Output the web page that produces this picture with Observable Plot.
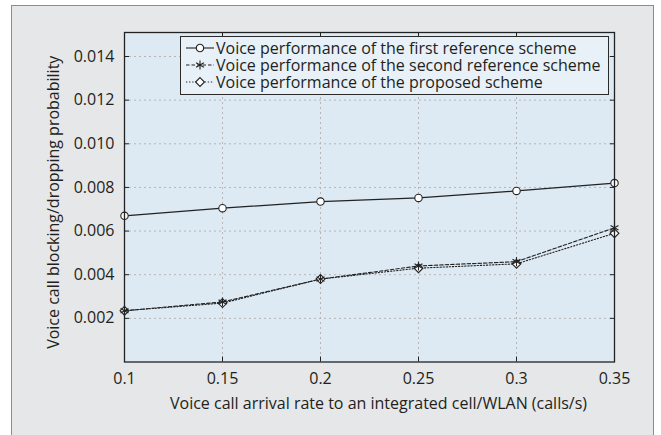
<!DOCTYPE html>
<html>
<head>
<meta charset="utf-8">
<script src="https://cdn.jsdelivr.net/npm/d3@7"></script>
<script src="https://cdn.jsdelivr.net/npm/@observablehq/plot@0.6"></script>
<style>
  html, body { margin: 0; padding: 0; background: #ffffff; }
  body { width: 661px; height: 435px; position: relative; overflow: hidden; font-family: "Open Sans", sans-serif; }
  #panel { position: absolute; left: 11px; top: 5px; width: 641px; height: 460px; background: #e6e7e8; border: 1.5px solid #8c8c8c; }
  #chart { position: absolute; left: 0; top: 0; }
  #legend { position: absolute; left: 180px; top: 36px; width: 429px; height: 59px; background: #e9f1f8; border: 1px solid #2a2a2a; box-sizing: border-box; padding-top: 3px; }
  .row { display: flex; align-items: center; height: 16.8px; line-height: 16.8px; font-size: 16px; color: #231f20; white-space: nowrap; }
  .row svg { margin-left: 4px; margin-right: 1px; flex: none; }
</style>
</head>
<body>
<div id="panel"></div>
<div id="chart"></div>
<div id="legend"></div>
<script>
// ---- data ----
const rates = [0.1, 0.15, 0.2, 0.25, 0.3, 0.35];
const firstRef = [0.0067, 0.00705, 0.00735, 0.00752, 0.00784, 0.0082];
const secondRef = [0.00235, 0.00275, 0.0038, 0.0044, 0.0046, 0.00615];
const proposed = [0.00235, 0.0027, 0.0038, 0.0043, 0.0045, 0.0059];
const seriesNames = [
  "Voice performance of the first reference scheme",
  "Voice performance of the second reference scheme",
  "Voice performance of the proposed scheme"
];
const xTicks = [0.1, 0.15, 0.2, 0.25, 0.3, 0.35];
const xTickLabels = ["0.1", "0.15", "0.2", "0.25", "0.3", "0.35"];
const yTicks = [0.002, 0.004, 0.006, 0.008, 0.010, 0.012, 0.014];
const yTickLabels = ["0.002", "0.004", "0.006", "0.008", "0.010", "0.012", "0.014"];
const xTitle = "Voice call arrival rate to an integrated cell/WLAN (calls/s)";
const yTitle = "Voice call blocking/dropping probability";

// ---- build table ----
const toRows = (vals, name) => rates.map((r, i) => ({x: r, y: vals[i], series: name}));
const d1 = toRows(firstRef, seriesNames[0]);
const d2 = toRows(secondRef, seriesNames[1]);
const d3p = toRows(proposed, seriesNames[2]);

const ink = "#222";
const styles = [
  {dash: null, symbol: "circle", r: 3.7},
  {dash: "3.5,2", symbol: "asterisk", r: 4.3},
  {dash: "1.3,1.8", symbol: "diamond2", r: 4}
];

const chart = Plot.plot({
  width: 661,
  height: 435,
  marginLeft: 124,
  marginRight: 47,
  marginTop: 32,
  marginBottom: 73.5,
  style: {background: "transparent", fontFamily: "Open Sans, sans-serif", color: "#231f20"},
  x: {domain: [0.1, 0.35]},
  y: {domain: [0, 0.0151]},
  marks: [
    Plot.frame({fill: "#dde9f3"}),
    Plot.gridX(xTicks.slice(1, -1), {stroke: "#b8b4b4", strokeOpacity: 1, strokeDasharray: "2,3"}),
    Plot.gridY(yTicks, {stroke: "#b8b4b4", strokeOpacity: 1, strokeDasharray: "2,3"}),
    // proposed
    Plot.line(d3p, {x: "x", y: "y", stroke: ink, strokeWidth: 1.1, strokeDasharray: styles[2].dash}),
    Plot.dot(d3p, {x: "x", y: "y", symbol: "diamond2", r: styles[2].r, fill: "white", stroke: ink, strokeWidth: 1.1}),
    // second
    Plot.line(d2, {x: "x", y: "y", stroke: ink, strokeWidth: 1.1, strokeDasharray: styles[1].dash}),
    Plot.dot(d2, {x: "x", y: "y", symbol: "asterisk", r: styles[1].r, stroke: ink, strokeWidth: 1.1}),
    // first
    Plot.line(d1, {x: "x", y: "y", stroke: ink, strokeWidth: 1.2}),
    Plot.dot(d1, {x: "x", y: "y", symbol: "circle", r: styles[0].r, fill: "white", stroke: ink, strokeWidth: 1.1}),
    Plot.frame({stroke: "#222", strokeWidth: 1.3}),
    // inward ticks
    Plot.axisX(xTicks, {anchor: "bottom", tickSize: -5, fill: "none", label: null, stroke: "#222"}),
    Plot.axisX(xTicks, {anchor: "top", tickSize: -5, fill: "none", label: null, stroke: "#222"}),
    Plot.axisY(yTicks, {anchor: "left", tickSize: -5, fill: "none", label: null, stroke: "#222"}),
    Plot.axisY(yTicks, {anchor: "right", tickSize: -5, fill: "none", label: null, stroke: "#222"}),
    // labels
    Plot.axisX(xTicks, {anchor: "bottom", tickSize: 0, tickPadding: 10.5, label: null, fontSize: 16,
      tickFormat: (d) => xTickLabels[xTicks.indexOf(d)]}),
    Plot.axisY(yTicks, {anchor: "left", tickSize: 0, tickPadding: 10, label: null, fontSize: 16,
      tickFormat: (d) => yTickLabels[yTicks.indexOf(d)]}),
    Plot.text([xTitle], {frameAnchor: "bottom", textAnchor: "middle", lineAnchor: "top", dy: 36, dx: 9, fontSize: 16, fill: "#231f20"}),
    Plot.text([yTitle], {frameAnchor: "left", textAnchor: "middle", lineAnchor: "middle", rotate: -90, dx: -71, dy: 5, fontSize: 16, fill: "#231f20"})
  ]
});
document.getElementById("chart").appendChild(chart);

// ---- legend ----
const legend = d3.select("#legend");
seriesNames.forEach((name, i) => {
  const s = styles[i];
  const row = legend.append("div").attr("class", "row");
  const svg = row.append("svg").attr("width", 30).attr("height", 16);
  svg.append("line").attr("x1", 1).attr("x2", 29).attr("y1", 8).attr("y2", 8)
    .attr("stroke", ink).attr("stroke-width", 1.1)
    .attr("stroke-dasharray", s.dash);
  const symType = {circle: d3.symbolCircle, asterisk: d3.symbolAsterisk, diamond2: d3.symbolDiamond2}[s.symbol];
  svg.append("path").attr("transform", "translate(15,8)")
    .attr("d", d3.symbol(symType, Math.PI * s.r * s.r)())
    .attr("fill", s.symbol === "asterisk" ? "none" : "white")
    .attr("stroke", ink).attr("stroke-width", 1.1);
  row.append("span").text(name);
});
</script>
</body>
</html>
